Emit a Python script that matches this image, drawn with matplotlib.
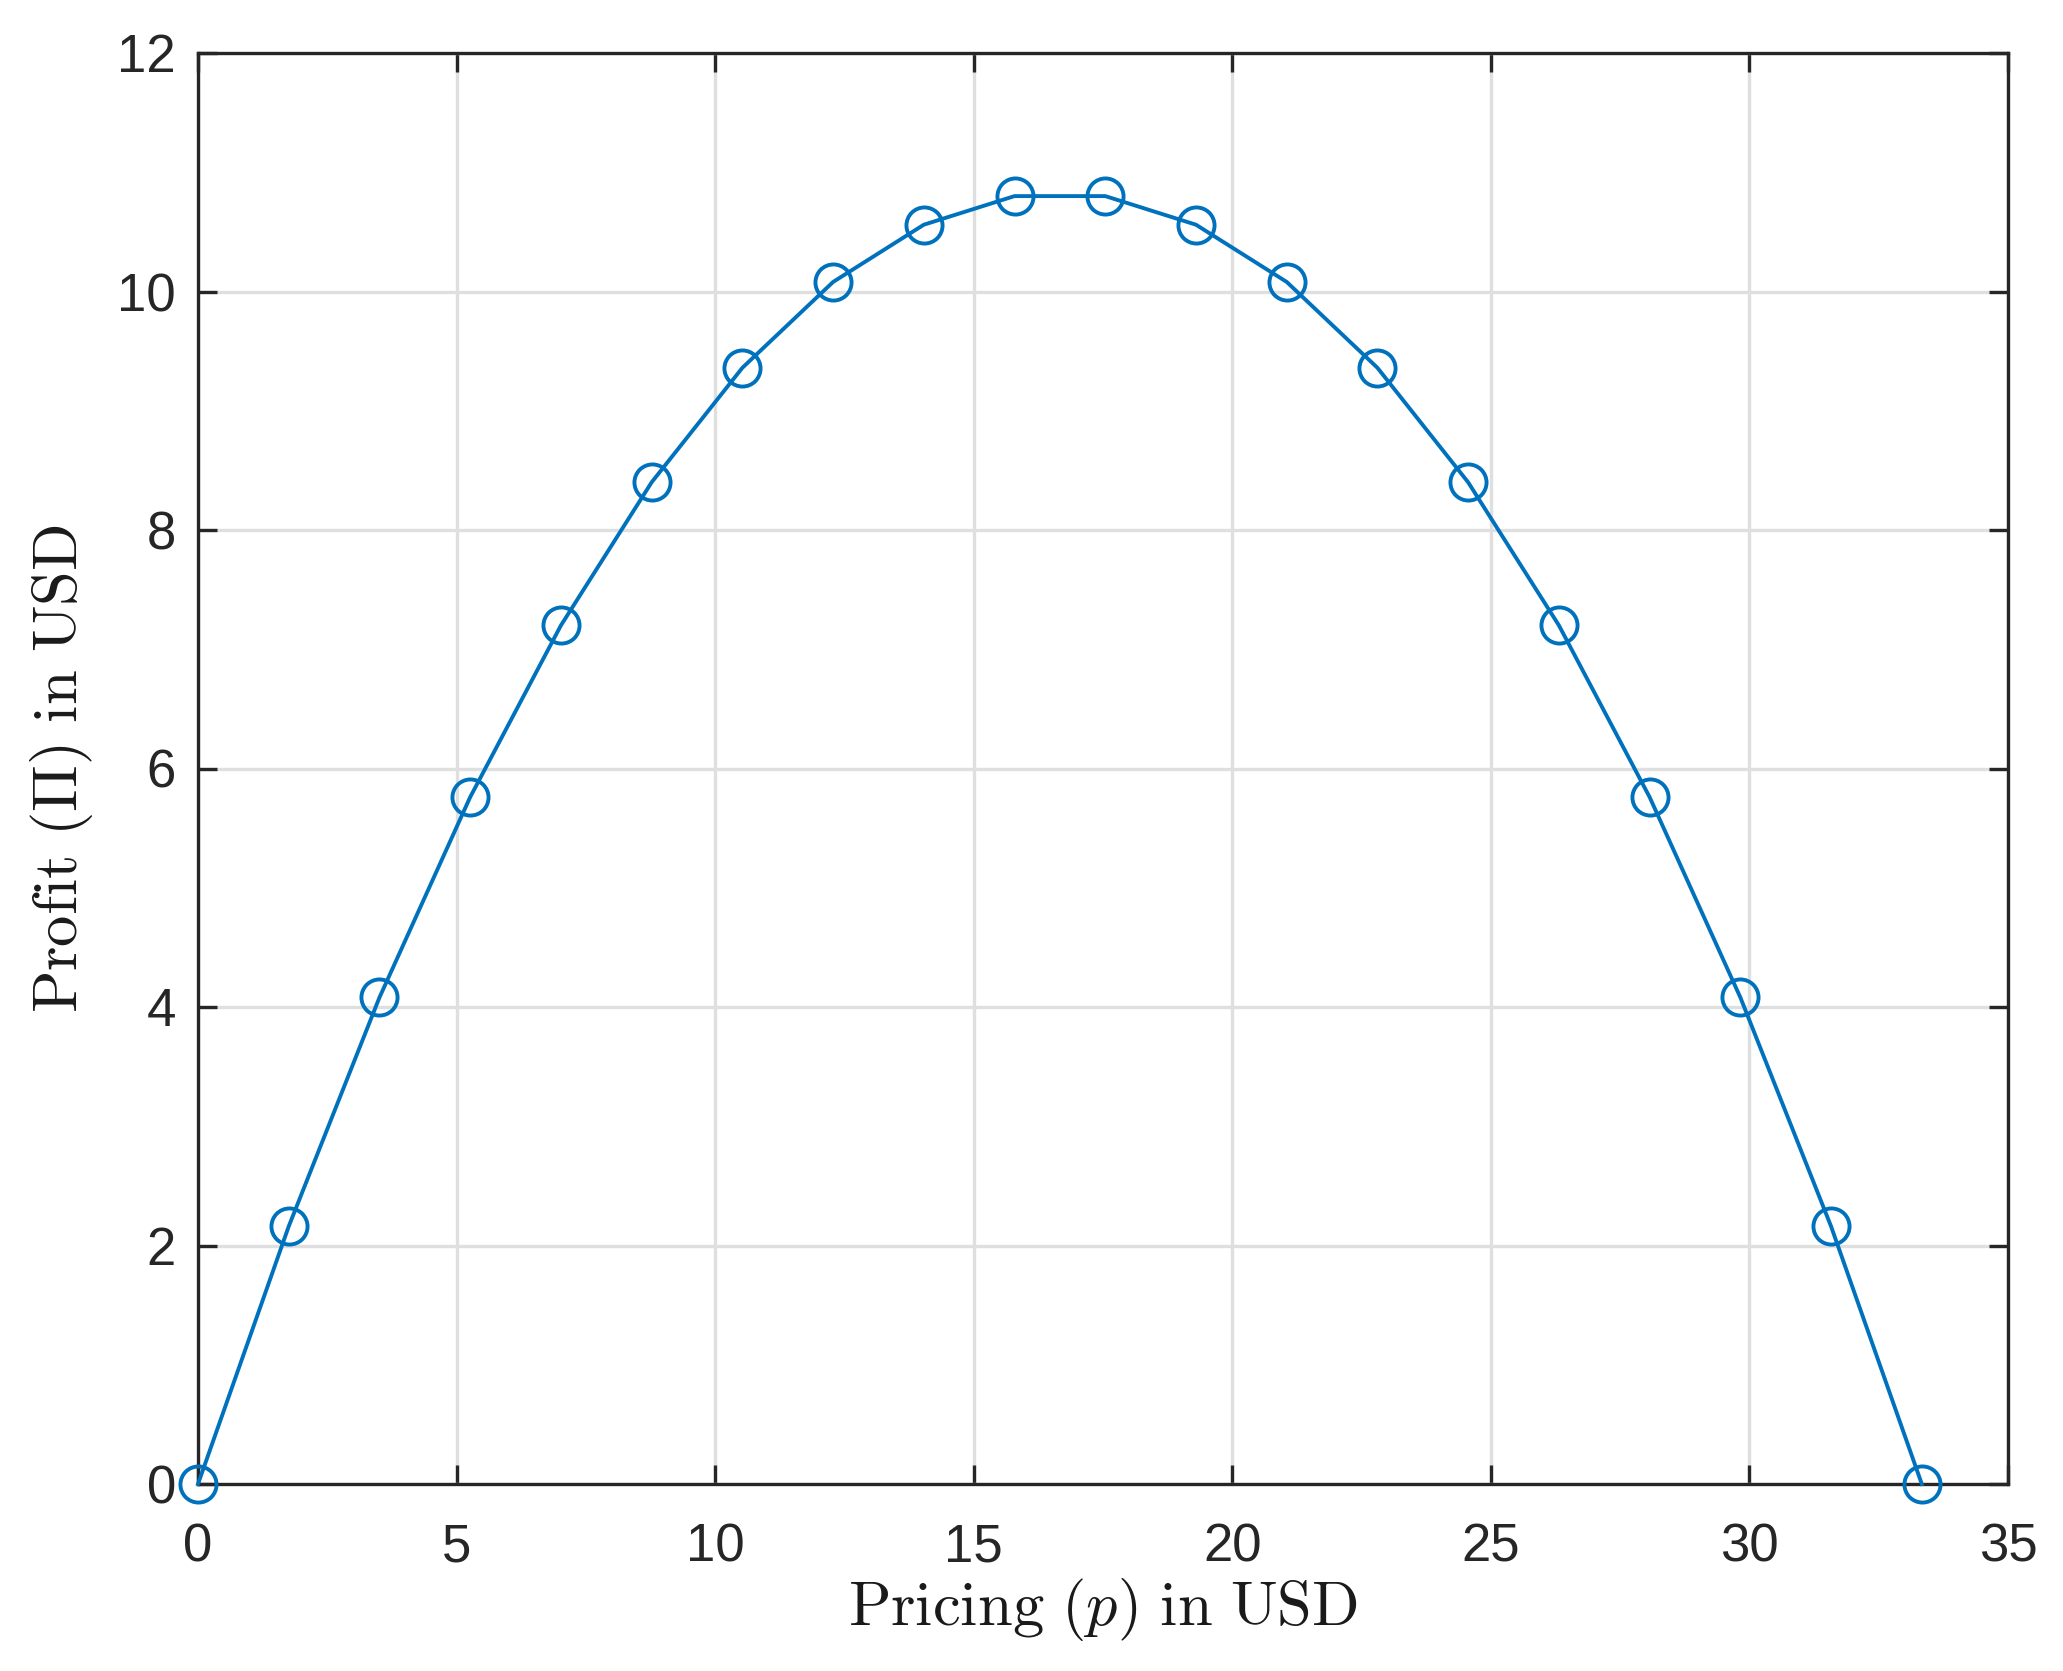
import matplotlib
matplotlib.use("Agg")
import matplotlib.pyplot as plt

price = [0.0, 1.754, 3.509, 5.263, 7.018, 8.772, 10.526, 12.281, 14.035, 15.789,
         17.544, 19.298, 21.053, 22.807, 24.561, 26.316, 28.070, 29.825, 31.579, 33.333]
profit = [0.0, 2.16, 4.08, 5.76, 7.20, 8.40, 9.36, 10.08, 10.56, 10.80,
          10.80, 10.56, 10.08, 9.36, 8.40, 7.20, 5.76, 4.08, 2.16, 0.0]
xticks = [0, 5, 10, 15, 20, 25, 30, 35]
yticks = [0, 2, 4, 6, 8, 10, 12]

plt.rcParams['mathtext.fontset'] = 'cm'
plt.rcParams['font.family'] = ['Liberation Sans', 'DejaVu Sans']

W, H = 2063, 1671
fig = plt.figure(figsize=(W / 100, H / 100), dpi=100)
left, right, top, bottom = 198, 2008, 53, 1484
ax = fig.add_axes([left / W, 1 - bottom / H, (right - left) / W, (bottom - top) / H])

ax.plot(price, profit, color='#0072BD', lw=2.8, marker='o', ms=26, mfc='none',
        mec='#0072BD', mew=2.8, clip_on=False, zorder=3)

ax.set_xlim(0, 35)
ax.set_ylim(0, 12)
ax.set_xticks(xticks)
ax.set_yticks(yticks)
ax.grid(True, color='#dfdfdf', lw=2.4)
ax.set_axisbelow(True)
for s in ax.spines.values():
    s.set_color('#262626')
    s.set_linewidth(2.4)
ax.tick_params(direction='in', length=14, width=2.4, colors='#262626',
               labelsize=38, top=True, right=True)
ax.tick_params(axis='x', pad=28)
ax.tick_params(axis='y', pad=16)

ax.set_xlabel(r'$\mathrm{Pricing}\ (p)\ \mathrm{in\ USD}$', fontsize=45, color='#1a1a1a', labelpad=2)
ax.set_ylabel(r'$\mathrm{Profit}\ (\Pi)\ \mathrm{in\ USD}$', fontsize=45, color='#1a1a1a', labelpad=16)

fig.savefig('out.png', dpi=100)
